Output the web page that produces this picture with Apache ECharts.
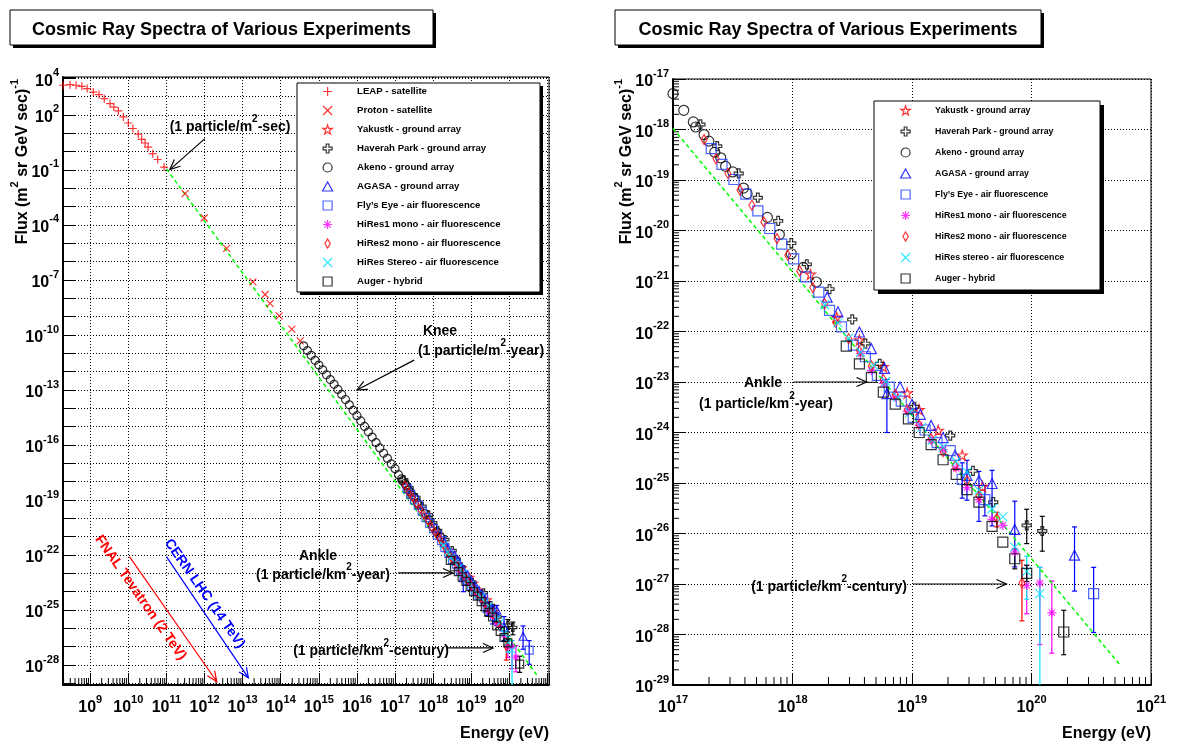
<!DOCTYPE html>
<html>
<head>
<meta charset="utf-8">
<script src="https://cdn.jsdelivr.net/npm/echarts@6.0.0/dist/echarts.min.js"></script>
<style>
html, body { margin: 0; padding: 0; background: #fff; }
#chart { width: 1184px; height: 745px; }
</style>
</head>
<body>
<div id="chart"></div>
<script>
// all values are log10(E / eV) and log10(flux);
// both plots use value axes in log10 units (= log-log plot)
const leapLogE = [8.29, 8.47, 8.63, 8.78, 8.92, 9.08, 9.23, 9.37, 9.52, 9.62, 9.74, 9.87, 10.0, 10.12, 10.26, 10.35, 10.44, 10.52, 10.64, 10.77, 10.94];
const leapLogF = [3.62, 3.65, 3.62, 3.56, 3.44, 3.25, 3.11, 2.89, 2.62, 2.43, 2.22, 1.89, 1.56, 1.26, 0.95, 0.67, 0.47, 0.25, -0.11, -0.43, -0.84];

const protonLogE = [11.49, 11.99, 12.58, 13.27, 13.59, 13.72, 13.96, 14.29, 14.51];
const protonLogF = [-2.29, -3.62, -5.28, -7.10, -7.79, -8.28, -8.96, -9.68, -10.32];

const yakutskLogE = [18.15, 18.37, 18.56, 18.76, 18.96, 19.06, 19.22, 19.42, 19.59];
const yakutskLogF = [-20.87, -21.72, -22.17, -22.70, -23.22, -23.55, -23.96, -24.45, -25.07];

const haverahLogE = [17.23, 17.37, 17.55, 17.71, 17.88, 17.99, 18.12, 18.31, 18.50, 18.61, 18.73, 19.02, 19.32, 19.51, 19.68, 19.96, 20.09];
const haverahLogF = [-17.90, -18.33, -18.87, -19.35, -19.81, -20.25, -20.67, -21.16, -21.76, -22.24, -22.64, -23.49, -24.06, -24.76, -25.38, -25.84, -25.95];
const haverahErr = [[19.96, -25.52, -26.20], [20.09, -25.66, -26.35]];

const akenoLogE = [14.6, 14.7, 14.8, 14.9, 15.0, 15.1, 15.2, 15.3, 15.4, 15.5, 15.6, 15.7, 15.8, 15.9, 16.0, 16.1, 16.2, 16.3, 16.4, 16.5, 16.6, 16.7, 16.8, 16.9,
  17.00, 17.09, 17.17, 17.19, 17.26, 17.30, 17.35, 17.40, 17.44, 17.50, 17.59, 17.62, 17.79, 17.89, 17.99, 18.09, 18.20];
const akenoLogF = [-10.59, -10.85, -11.11, -11.38, -11.64, -11.90, -12.17, -12.43, -12.69, -12.97, -13.24, -13.52, -13.81, -14.11, -14.40, -14.69, -14.99, -15.28, -15.57, -15.87, -16.16, -16.45, -16.73, -17.03,
  -17.29, -17.62, -17.85, -17.95, -18.10, -18.23, -18.45, -18.56, -18.73, -18.84, -19.16, -19.27, -19.74, -20.08, -20.46, -20.73, -21.02];

const agasaLogE = [18.29, 18.38, 18.56, 18.66, 18.77, 18.79, 18.90, 19.00, 19.07, 19.16, 19.26, 19.36, 19.46, 19.56, 19.67, 19.86, 20.36];
const agasaLogF = [-21.32, -21.61, -22.01, -22.34, -22.73, -23.23, -23.10, -23.44, -23.64, -23.86, -24.10, -24.45, -24.85, -24.95, -25.01, -25.92, -26.43];
const agasaErr = [[18.79, -22.95, -24.0], [19.46, -24.55, -25.34], [19.56, -24.77, -25.76], [19.67, -24.75, -25.85], [19.86, -25.36, -26.66], [20.36, -25.87, -27.14]];

const flysEyeLogE = [17.32, 17.41, 17.51, 17.61, 17.71, 17.81, 17.91, 18.01, 18.11, 18.22, 18.31, 18.41, 18.51, 18.61, 18.71, 18.81, 18.91, 19.01, 19.11, 19.21, 19.32, 19.42, 19.61, 20.52];
const flysEyeLogF = [-18.38, -18.69, -18.99, -19.28, -19.61, -19.96, -20.27, -20.56, -20.92, -21.22, -21.58, -21.91, -22.27, -22.50, -22.87, -23.10, -23.38, -23.70, -23.95, -24.20, -24.36, -24.93, -25.33, -27.19];
const flysEyeErr = [[19.42, -24.60, -25.30], [19.61, -25.05, -25.65], [20.52, -26.67, -27.96]];

const hires1LogE = [18.57, 18.66, 18.76, 18.86, 18.96, 19.06, 19.16, 19.26, 19.37, 19.46, 19.56, 19.67, 19.76, 19.86, 19.96, 20.07, 20.17];
const hires1LogF = [-22.44, -22.77, -23.03, -23.30, -23.58, -23.86, -24.15, -24.34, -24.71, -25.09, -25.33, -25.72, -25.84, -26.37, -27.03, -26.98, -27.57];
const hires1Err = [[19.96, -26.63, -27.59], [20.07, -26.67, -28.2], [20.17, -26.94, -28.37]];

const hires2LogE = [17.26, 17.36, 17.46, 17.56, 17.66, 17.76, 17.87, 17.96, 18.06, 18.17, 18.27, 18.36, 18.47, 18.56, 18.66, 18.76, 18.86, 18.96, 19.06, 19.16, 19.26, 19.36, 19.46, 19.56, 19.71, 19.92];
const hires2LogF = [-18.20, -18.58, -18.87, -19.20, -19.50, -19.83, -20.16, -20.49, -20.80, -21.13, -21.45, -21.81, -22.14, -22.38, -22.68, -22.95, -23.25, -23.55, -23.85, -24.12, -24.38, -24.66, -24.95, -25.25, -25.70, -26.98];
const hires2Err = [[19.71, -25.58, -25.87], [19.92, -26.53, -27.73]];

const stereoLogE = [18.27, 18.38, 18.47, 18.57, 18.68, 18.78, 18.88, 18.98, 19.08, 19.17, 19.26, 19.37, 19.46, 19.56, 19.67, 19.76, 19.86, 19.96, 20.07];
const stereoLogF = [-21.47, -21.83, -22.13, -22.41, -22.67, -22.99, -23.30, -23.60, -23.90, -24.15, -24.29, -24.58, -24.78, -25.14, -25.51, -25.67, -26.27, -26.75, -27.19];
const stereoErr = [[19.96, -26.45, -27.3], [20.07, -26.67, -31]];

const augerLogE = [18.45, 18.56, 18.66, 18.76, 18.86, 18.97, 19.06, 19.16, 19.26, 19.37, 19.46, 19.56, 19.67, 19.76, 19.86, 19.96, 20.27];
const augerLogF = [-22.29, -22.64, -22.91, -23.20, -23.44, -23.73, -24.00, -24.24, -24.54, -24.83, -25.13, -25.38, -25.86, -26.17, -26.50, -26.79, -27.95];
const augerErr = [[19.86, -26.3, -26.7], [19.96, -26.63, -26.95], [20.27, -27.52, -28.40]];

// green dashed power law
const fitLogE = [11.0, 20.75];
const fitLogF = [-0.94, -28.63];

// axis ranges (log10)
const leftXRange = [8.286, 21.04];
const leftYRange = [-29.09, 4.07];
const rightXRange = [17, 21];
const rightYRange = [-29, -17];

const FONT = '"Liberation Sans", Arial, Helvetica, sans-serif';
const COLORS = ['#ff0000', '#000000', '#0000ff', '#ff00ff', '#00e5ff'];

const SYM = {
  plus: 'path://M5,0L5,10M0,5L10,5',
  cross: 'path://M0,0L10,10M10,0L0,10',
  star: 'path://M5,0L6.2,3.6L10,3.6L6.9,5.9L8.1,9.5L5,7.3L1.9,9.5L3.1,5.9L0,3.6L3.8,3.6Z',
  openCross: 'path://M3.5,0L6.5,0L6.5,3.5L10,3.5L10,6.5L6.5,6.5L6.5,10L3.5,10L3.5,6.5L0,6.5L0,3.5L3.5,3.5Z',
  circle: 'circle',
  triangle: 'path://M5,0L10,9L0,9Z',
  square: 'path://M0,0L10,0L10,10L0,10Z',
  asterisk: 'path://M5,0L5,10M0,5L10,5M1.5,1.5L8.5,8.5M8.5,1.5L1.5,8.5',
  diamond: 'path://M3,0L6,5L3,10L0,5Z'
};

const toPts = (le, lf) => le.map((e, i) => [e, lf[i]]);

const experiments = [
  { name: 'LEAP - satellite', le: leapLogE, lf: leapLogF, sym: SYM.plus, color: '#ff0000', sL: 8, leftOnly: true },
  { name: 'Proton - satellite', le: protonLogE, lf: protonLogF, sym: SYM.cross, color: '#ff0000', sL: 7, leftOnly: true },
  { name: 'Yakustk - ground array', le: yakutskLogE, lf: yakutskLogF, sym: SYM.star, color: '#ff0000', sL: 8, sR: 10 },
  { name: 'Haverah Park - ground array', le: haverahLogE, lf: haverahLogF, sym: SYM.openCross, color: '#000000', sL: 8, sR: 9 },
  { name: 'Akeno - ground array', le: akenoLogE, lf: akenoLogF, sym: SYM.circle, color: '#000000', sL: 8, sR: 10 },
  { name: 'AGASA - ground array', le: agasaLogE, lf: agasaLogF, sym: SYM.triangle, color: '#0000ff', sL: 8, sR: 10 },
  { name: 'Fly\u2019s Eye - air fluorescence', le: flysEyeLogE, lf: flysEyeLogF, sym: SYM.square, color: '#2040ff', sL: 8, sR: 10 },
  { name: 'HiRes1 mono - air fluorescence', le: hires1LogE, lf: hires1LogF, sym: SYM.asterisk, color: '#ff00ff', sL: 7, sR: 9 },
  { name: 'HiRes2 mono - air fluorescence', le: hires2LogE, lf: hires2LogF, sym: SYM.diamond, color: '#ff0000', sL: [5, 8], sR: [6, 10] },
  { name: 'HiRes Stereo - air fluorescence', nameR: 'HiRes stereo - air fluorescence', le: stereoLogE, lf: stereoLogF, sym: SYM.cross, color: '#00e5ff', sL: 7, sR: 9 },
  { name: 'Auger - hybrid', le: augerLogE, lf: augerLogF, sym: SYM.square, color: '#000000', sL: 8, sR: 10 }
];

const errorList = [].concat(
  haverahErr.map(r => r.concat(1)),
  agasaErr.map(r => r.concat(2)),
  flysEyeErr.map(r => r.concat(2)),
  hires1Err.map(r => r.concat(3)),
  hires2Err.map(r => r.concat(0)),
  stereoErr.map(r => r.concat(4)),
  augerErr.map(r => r.concat(1))
);

function scatter(exp, g) {
  return {
    name: g === 1 && exp.nameR ? exp.nameR : exp.name,
    type: 'scatter', xAxisIndex: g, yAxisIndex: g,
    data: toPts(exp.le, exp.lf),
    symbol: exp.sym, symbolSize: g === 0 ? exp.sL : exp.sR,
    itemStyle: { color: 'rgba(0,0,0,0)', borderColor: exp.color, borderWidth: 1.2 },
    emphasis: { disabled: true }, clip: true, z: 3
  };
}

function errorSeries(g) {
  return {
    type: 'custom', xAxisIndex: g, yAxisIndex: g, clip: true, silent: true, z: 2,
    data: errorList,
    encode: { x: 0, y: 1 },
    renderItem: (params, api) => {
      const a = api.coord([api.value(0), api.value(1)]);
      const b = api.coord([api.value(0), api.value(2)]);
      const c = COLORS[api.value(3)];
      const st = { stroke: c, lineWidth: 1.2 };
      return { type: 'group', children: [
        { type: 'line', shape: { x1: a[0], y1: a[1], x2: b[0], y2: b[1] }, style: st },
        { type: 'line', shape: { x1: a[0] - 2.5, y1: a[1], x2: a[0] + 2.5, y2: a[1] }, style: st },
        { type: 'line', shape: { x1: b[0] - 2.5, y1: b[1], x2: b[0] + 2.5, y2: b[1] }, style: st }
      ] };
    }
  };
}

function fitSeries(g) {
  return {
    type: 'line', xAxisIndex: g, yAxisIndex: g, data: toPts(fitLogE, fitLogF),
    showSymbol: false, symbol: 'none', silent: true, clip: true, z: 2,
    lineStyle: { color: '#00ff00', width: 1.5, type: [4, 3] }
  };
}

// minor ticks at 2..9 x 10^n
function minorValues(range) {
  const out = [];
  for (let d = Math.floor(range[0]); d < Math.ceil(range[1]); d++) {
    for (let k = 2; k <= 9; k++) {
      const lv = d + Math.log10(k);
      if (lv > range[0] && lv < range[1]) out.push(lv);
    }
  }
  return out;
}

function tickSeries(g, vals, isX, refX, refY, len) {
  return {
    type: 'custom', xAxisIndex: g, yAxisIndex: g, silent: true, z: 1,
    data: vals.map(v => isX ? [v, refY] : [refX, v]),
    encode: { x: 0, y: 1 },
    renderItem: (params, api) => {
      const cs = params.coordSys;
      const p = api.coord([api.value(0), api.value(1)]);
      const shape = isX
        ? { x1: p[0], y1: cs.y + cs.height, x2: p[0], y2: cs.y + cs.height - len }
        : { x1: cs.x, y1: p[1], x2: cs.x + len, y2: p[1] };
      return { type: 'line', shape, style: { stroke: '#000', lineWidth: 1 } };
    }
  };
}

const RICH = {
  b: { fontFamily: FONT, fontWeight: 'bold', fontSize: 16, color: '#000', lineHeight: 22, verticalAlign: 'bottom' },
  e: { fontFamily: FONT, fontWeight: 'bold', fontSize: 11, color: '#000', lineHeight: 22, verticalAlign: 'top' }
};

function logAxis(g, range, splitNumber, showExp, isX) {
  return {
    type: 'value', gridIndex: g,
    min: range[0], max: range[1], splitNumber,
    axisLine: { show: true, onZero: false, lineStyle: { color: '#000', width: 2 } },
    axisTick: { show: true, inside: true, length: 12, lineStyle: { color: '#000', width: 1 } },
    axisLabel: {
      margin: isX ? 9 : 4,
      showMinLabel: true, showMaxLabel: true,
      rich: RICH,
      formatter: v => {
        const e = Math.round(v);
        if (Math.abs(v - e) > 1e-6 || !showExp(e)) return '';
        return '{b|10}{e|' + e + '}';
      }
    },
    splitLine: { show: true, lineStyle: { color: '#000', width: 1, type: [1, 2] } },
    minorTick: { show: false }
  };
}

function legendCfg(names, left, top, gap, fontSize) {
  return {
    data: names, orient: 'vertical', left, top, padding: 0,
    itemWidth: 49, itemHeight: 9, itemGap: gap, selectedMode: false, z: 50,
    symbolKeepAspect: true,
    itemStyle: { borderWidth: 1.2 },
    textStyle: { fontFamily: FONT, fontWeight: 'bold', fontSize, color: '#000', lineHeight: 13 }
  };
}

const leftNames = experiments.map(e => e.name);
const rightNames = experiments.filter(e => !e.leftOnly).map(e => e.nameR || e.name);

const series = [];
series.push(tickSeries(0, minorValues(leftXRange), true, 10, -10, 7));
series.push(tickSeries(1, minorValues(rightXRange), true, 18, -20, 8));
series.push(tickSeries(1, minorValues(rightYRange), false, 18, -20, 6));
series.push(fitSeries(0), fitSeries(1));
series.push(errorSeries(0), errorSeries(1));
experiments.forEach(e => series.push(scatter(e, 0)));
experiments.filter(e => !e.leftOnly).forEach(e => series.push(scatter(e, 1)));

const chart = echarts.init(document.getElementById('chart'));
chart.setOption({
  animation: false,
  backgroundColor: '#fff',
  textStyle: { fontFamily: FONT },
  grid: [
    { left: 63, top: 77, width: 486, height: 608, show: true, borderColor: '#000', borderWidth: 1, outerBoundsMode: 'none' },
    { left: 673, top: 79, width: 478, height: 606, show: true, borderColor: '#000', borderWidth: 1, outerBoundsMode: 'none' }
  ],
  xAxis: [
    logAxis(0, leftXRange, 13, e => e >= 9 && e <= 20, true),
    logAxis(1, rightXRange, 4, e => true, true)
  ],
  yAxis: [
    logAxis(0, leftYRange, 33, e => e === 4 || (e - 2) % 3 === 0, false),
    logAxis(1, rightYRange, 12, e => true, false)
  ],
  legend: [
    legendCfg(leftNames, 322, 85, 6, 9.6),
    legendCfg(rightNames, 900, 104, 8, 8.8)
  ],
  series
});

// ---- annotations ----
const arrowsLeft = [
  { from: [12.01, 0.71], to: [11.09, -0.98], color: '#000' },
  { from: [17.5, -11.37], to: [16.0, -13.0], color: '#000' },
  { from: [17.08, -22.98], to: [18.52, -22.98], color: '#000' },
  { from: [18.36, -27.07], to: [19.57, -27.07], color: '#000' },
  { from: [10.03, -22.09], to: [12.32, -28.9], color: '#ff0000' },
  { from: [11.0, -22.09], to: [13.15, -28.7], color: '#0000ff' }
];
const arrowsRight = [
  { from: [18.01, -23.0], to: [18.62, -23.0], color: '#000' },
  { from: [19.01, -27.0], to: [19.79, -27.0], color: '#000' }
];

function arrowEls(g, a) {
  const f = { xAxisIndex: g, yAxisIndex: g };
  const p0 = chart.convertToPixel(f, a.from);
  const p1 = chart.convertToPixel(f, a.to);
  const ang = Math.atan2(p1[1] - p0[1], p1[0] - p0[0]);
  const L = 11, w = 0.42;
  const h1 = [p1[0] - L * Math.cos(ang - w), p1[1] - L * Math.sin(ang - w)];
  const h2 = [p1[0] - L * Math.cos(ang + w), p1[1] - L * Math.sin(ang + w)];
  return [
    { type: 'line', z: 60, silent: true, shape: { x1: p0[0], y1: p0[1], x2: p1[0], y2: p1[1] }, style: { stroke: a.color, lineWidth: 1.2 } },
    { type: 'polyline', z: 60, silent: true, shape: { points: [h1, p1, h2] }, style: { stroke: a.color, lineWidth: 1.2, fill: 'none' } }
  ];
}

function rich(size, color) {
  return {
    n: { fontFamily: FONT, fontWeight: 'bold', fontSize: size, fill: color, lineHeight: size + 6, verticalAlign: 'bottom' },
    s: { fontFamily: FONT, fontWeight: 'bold', fontSize: Math.round(size * 0.68), fill: color, lineHeight: size + 6, verticalAlign: 'top' }
  };
}

function label(text, x, y, opts) {
  opts = opts || {};
  const size = opts.size || 14, color = opts.color || '#000';
  return {
    type: 'text', x, y, rotation: (opts.rot || 0) * Math.PI / 180, z: 60, silent: true,
    style: {
      text, rich: rich(size, color), fontFamily: FONT, fontWeight: 'bold', fontSize: size, fill: color,
      align: opts.align || 'center', verticalAlign: 'middle'
    }
  };
}

function box(x, y, w, h, sh) {
  return [
    { type: 'rect', z: 40, silent: true, shape: { x: x + sh, y: y + sh, width: w, height: h }, style: { fill: '#000' } },
    { type: 'rect', z: 41, silent: true, shape: { x, y, width: w, height: h }, style: { fill: '#fff', stroke: '#000', lineWidth: 1 } }
  ];
}

const TITLE = 'Cosmic Ray Spectra of Various Experiments';
const els = [].concat(
  box(10, 10, 423, 35, 3),
  box(615, 10, 426, 35, 3),
  box(297, 83, 243, 209, 3),
  box(874, 101, 226, 189, 4),
  [
    label('{n|' + TITLE + '}', 221.5, 27.5, { size: 18 }),
    label('{n|' + TITLE + '}', 828, 27.5, { size: 18 }),
    label('{n|Flux (m}{s|2}{n| sr GeV sec)}{s|-1}', 20, 79, { size: 16, rot: 90, align: 'right' }),
    label('{n|Flux (m}{s|2}{n| sr GeV sec)}{s|-1}', 624, 79, { size: 16, rot: 90, align: 'right' }),
    label('{n|Energy (eV)}', 549, 731, { size: 16, align: 'right' }),
    label('{n|Energy (eV)}', 1151, 731, { size: 16, align: 'right' }),
    label('{n|(1 particle/m}{s|2}{n|-sec)}', 230, 124),
    label('{n|Knee}', 440, 328),
    label('{n|(1 particle/m}{s|2}{n|-year)}', 481, 348),
    label('{n|Ankle}', 318, 553),
    label('{n|(1 particle/km}{s|2}{n|-year)}', 323, 572),
    label('{n|(1 particle/km}{s|2}{n|-century)}', 371, 648),
    label('{n|FNAL Tevatron (2 TeV)}', 143, 596, { color: '#ff0000', rot: -55 }),
    label('{n|CERN LHC (14 TeV)}', 207, 592, { color: '#0000ff', rot: -55 }),
    label('{n|Ankle}', 763, 380),
    label('{n|(1 particle/km}{s|2}{n|-year)}', 766, 401),
    label('{n|(1 particle/km}{s|2}{n|-century)}', 829, 584)
  ]
);
arrowsLeft.forEach(a => els.push.apply(els, arrowEls(0, a)));
arrowsRight.forEach(a => els.push.apply(els, arrowEls(1, a)));

chart.setOption({ graphic: { elements: els } });
</script>
</body>
</html>
